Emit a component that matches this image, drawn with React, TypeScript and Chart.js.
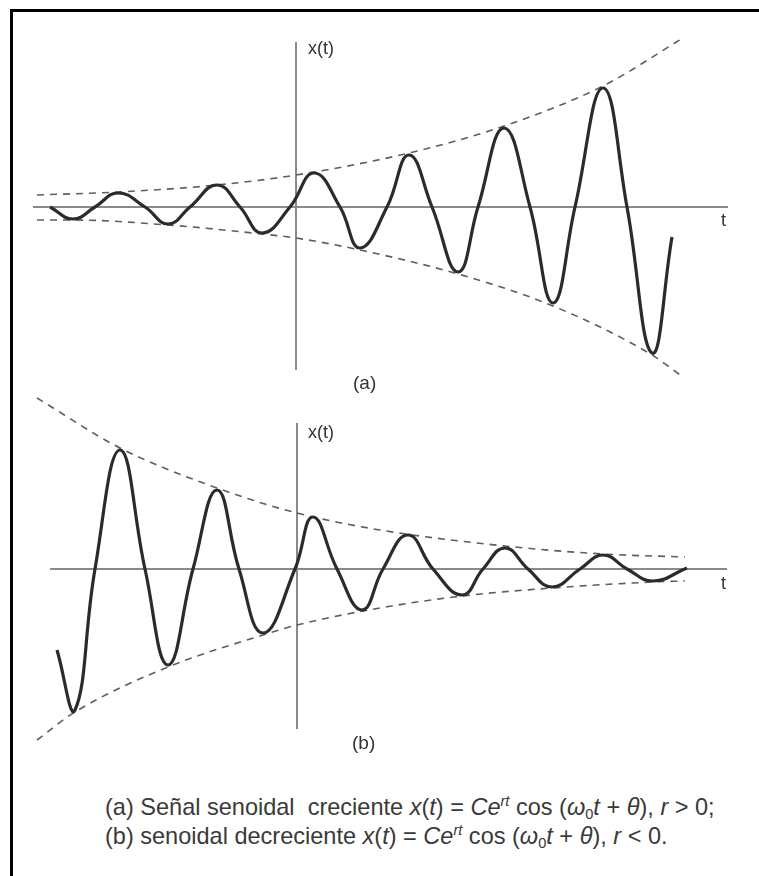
import React, { useEffect, useRef } from "react";
import { Chart, registerables } from "chart.js";

Chart.register(...registerables);

// ---------- DATA (t and x in figure units) ----------
// Panel (a): growing sinusoid — samples at extrema and zero crossings
const A_T = [-4.92, -4.46, -4.02, -3.56, -3.02, -2.56, -2.12, -1.58, -1.12, -0.68, -0.12, 0.36, 0.88, 1.28, 1.82, 2.26, 2.72, 3.24, 3.64, 4.16, 4.68, 5.14, 5.58, 6.14, 6.62, 7.12, 7.52];
const A_X = [0, -0.24, 0, 0.28, 0, -0.34, 0, 0.44, 0, -0.52, 0, 0.68, 0, -0.82, 0, 1.04, 0, -1.3, 0, 1.58, 0, -1.92, 0, 2.38, 0, -2.92, -0.6];
// Panel (a): envelopes
const A_UP_T = [-5.18, -3.56, -1.58, 0, 2.26, 4.16, 6.14, 7.74];
const A_UP_X = [0.24, 0.3, 0.44, 0.64, 1.08, 1.62, 2.42, 3.38];
const A_LO_T = [-5.18, -4.46, -2.56, -0.68, 0, 1.28, 3.24, 5.14, 7.12, 7.74];
const A_LO_X = [-0.26, -0.26, -0.36, -0.54, -0.62, -0.86, -1.34, -1.98, -2.96, -3.4];
// Panel (a): axis extents [t-axis from, to], [x-axis from, to]
const A_TAXIS = [-5.26, 8.64];
const A_XAXIS = [-3.26, 3.3];

// Panel (b): decaying sinusoid
const B_T = [-4.8, -4.44, -4.04, -3.54, -3.04, -2.58, -2.08, -1.6, -1.16, -0.68, -0.04, 0.32, 0.8, 1.3, 1.72, 2.22, 2.72, 3.3, 3.72, 4.16, 4.62, 5.1, 5.66, 6.12, 6.6, 7.12, 7.8];
const B_X = [-1.62, -2.82, 0, 2.38, 0, -1.92, 0, 1.58, 0, -1.28, 0, 1.04, 0, -0.82, 0, 0.68, 0, -0.52, 0, 0.42, 0, -0.36, 0, 0.28, 0, -0.24, 0.02];
const B_UP_T = [-5.2, -3.54, -1.6, 0, 1.66, 4.16, 6.12, 7.76];
const B_UP_X = [3.42, 2.42, 1.62, 1.12, 0.78, 0.46, 0.3, 0.24];
const B_LO_T = [-5.2, -4.44, -2.58, -0.68, 0, 1.66, 3.3, 5.1, 7.12, 7.76];
const B_LO_X = [-3.42, -2.86, -1.96, -1.32, -1.12, -0.78, -0.54, -0.38, -0.26, -0.24];
const B_TAXIS = [-4.94, 8.6];
const B_XAXIS = [-3.2, 2.92];

// ---------- LAYOUT ----------
const W = 759;
const H = 876;
const UNIT = 50; // px per figure unit
const PANEL_A = { top: 0, height: 400, originX: 296, originY: 207 };
const PANEL_B = { top: 380, height: 400, originX: 297, originY: 569 };

const CURVE_COLOR = "#2b2b2b";
const AXIS_COLOR = "#8a8a8a";
const DASH_COLOR = "#5e5e5e";

const pts = (ts: number[], xs: number[]) => ts.map((t, i) => ({ x: t, y: xs[i] }));

function buildConfig(panel: any, d: any) {
  const xMin = -panel.originX / UNIT;
  const xMax = (W - panel.originX) / UNIT;
  const yMax = (panel.originY - panel.top) / UNIT;
  const yMin = (panel.originY - panel.top - panel.height) / UNIT;
  return {
    type: "line",
    data: {
      datasets: [
        {
          data: pts(d.t, d.x),
          borderColor: CURVE_COLOR,
          borderWidth: 3.2,
          tension: 0.45,
          pointRadius: 0,
          order: 0,
          clip: false,
        },
        {
          data: pts(d.upT, d.upX),
          borderColor: DASH_COLOR,
          borderWidth: 1.6,
          borderDash: [7, 6],
          cubicInterpolationMode: "monotone",
          pointRadius: 0,
          order: 1,
          clip: false,
        },
        {
          data: pts(d.loT, d.loX),
          borderColor: DASH_COLOR,
          borderWidth: 1.6,
          borderDash: [7, 6],
          cubicInterpolationMode: "monotone",
          pointRadius: 0,
          order: 1,
          clip: false,
        },
        {
          data: [
            { x: d.tAxis[0], y: 0 },
            { x: d.tAxis[1], y: 0 },
          ],
          borderColor: AXIS_COLOR,
          borderWidth: 2,
          tension: 0,
          pointRadius: 0,
          order: 2,
          clip: false,
        },
        {
          data: [
            { x: 0, y: d.xAxis[0] },
            { x: 0, y: d.xAxis[1] },
          ],
          borderColor: AXIS_COLOR,
          borderWidth: 2,
          tension: 0,
          pointRadius: 0,
          order: 2,
          clip: false,
        },
      ],
    },
    options: {
      animation: false,
      responsive: false,
      maintainAspectRatio: false,
      devicePixelRatio: 1,
      events: [],
      layout: { padding: 0 },
      plugins: { legend: { display: false }, tooltip: { enabled: false } },
      scales: {
        x: { type: "linear", min: xMin, max: xMax, display: false },
        y: { type: "linear", min: yMin, max: yMax, display: false },
      },
    },
  };
}

function Panel({ panel, d }: { panel: any; d: any }) {
  const ref = useRef<HTMLCanvasElement | null>(null);
  useEffect(() => {
    if (!ref.current) return;
    const chart = new Chart(ref.current, buildConfig(panel, d) as any);
    return () => chart.destroy();
  }, []);
  return (
    <canvas
      ref={ref}
      width={W}
      height={panel.height}
      style={{ position: "absolute", left: 0, top: panel.top, width: W, height: panel.height }}
    />
  );
}

const labelFont = '"Liberation Sans", Arial, Helvetica, sans-serif';

function Label({ left, top, size, children }: any) {
  return (
    <div
      style={{
        position: "absolute",
        left,
        top,
        fontFamily: labelFont,
        fontSize: size,
        lineHeight: 1,
        color: "#333",
        whiteSpace: "nowrap",
      }}
    >
      {children}
    </div>
  );
}

const I = ({ children }: any) => <span style={{ fontStyle: "italic" }}>{children}</span>;
const Sup = ({ children }: any) => (
  <span style={{ fontSize: "0.62em", position: "relative", top: "-0.6em", fontStyle: "italic" }}>{children}</span>
);
const Sub = ({ children }: any) => (
  <span style={{ fontSize: "0.62em", position: "relative", top: "0.25em" }}>{children}</span>
);

function CaptionLine({ top, children }: any) {
  return (
    <div
      style={{
        position: "absolute",
        left: 105,
        top,
        fontFamily: labelFont,
        fontSize: 24,
        lineHeight: 1,
        color: "#3a3a3a",
        whiteSpace: "nowrap",
        transform: "scaleX(0.98)",
        transformOrigin: "0 0",
      }}
    >
      {children}
    </div>
  );
}

export default function App() {
  const dA = { t: A_T, x: A_X, upT: A_UP_T, upX: A_UP_X, loT: A_LO_T, loX: A_LO_X, tAxis: A_TAXIS, xAxis: A_XAXIS };
  const dB = { t: B_T, x: B_X, upT: B_UP_T, upX: B_UP_X, loT: B_LO_T, loX: B_LO_X, tAxis: B_TAXIS, xAxis: B_XAXIS };
  return (
    <div
      style={{
        position: "absolute",
        left: 0,
        top: 0,
        width: W,
        height: H,
        overflow: "hidden",
        background: "#fff",
      }}
    >
      <div
        style={{
          position: "absolute",
          left: 10,
          top: 9,
          width: W + 40,
          height: H + 40,
          borderTop: "3px solid #000",
          borderLeft: "3px solid #000",
        }}
      />
      <Panel panel={PANEL_A} d={dA} />
      <Panel panel={PANEL_B} d={dB} />

      <Label left={308} top={39} size={18}>x(t)</Label>
      <Label left={721} top={211} size={18}>t</Label>
      <Label left={353} top={373} size={19}>(a)</Label>

      <Label left={308} top={423} size={18}>x(t)</Label>
      <Label left={721} top={574} size={18}>t</Label>
      <Label left={352} top={733} size={19}>(b)</Label>

      <CaptionLine top={795}>
        (a) Señal senoidal{"\u00a0\u00a0"}creciente <I>x</I>(<I>t</I>) = <I>Ce</I>
        <Sup>rt</Sup> cos (<I>ω</I>
        <Sub>0</Sub>
        <I>t</I> + <I>θ</I>), <I>r</I> &gt; 0;
      </CaptionLine>
      <CaptionLine top={824}>
        (b) senoidal decreciente <I>x</I>(<I>t</I>) = <I>Ce</I>
        <Sup>rt</Sup> cos (<I>ω</I>
        <Sub>0</Sub>
        <I>t</I> + <I>θ</I>), <I>r</I> &lt; 0.
      </CaptionLine>
    </div>
  );
}
